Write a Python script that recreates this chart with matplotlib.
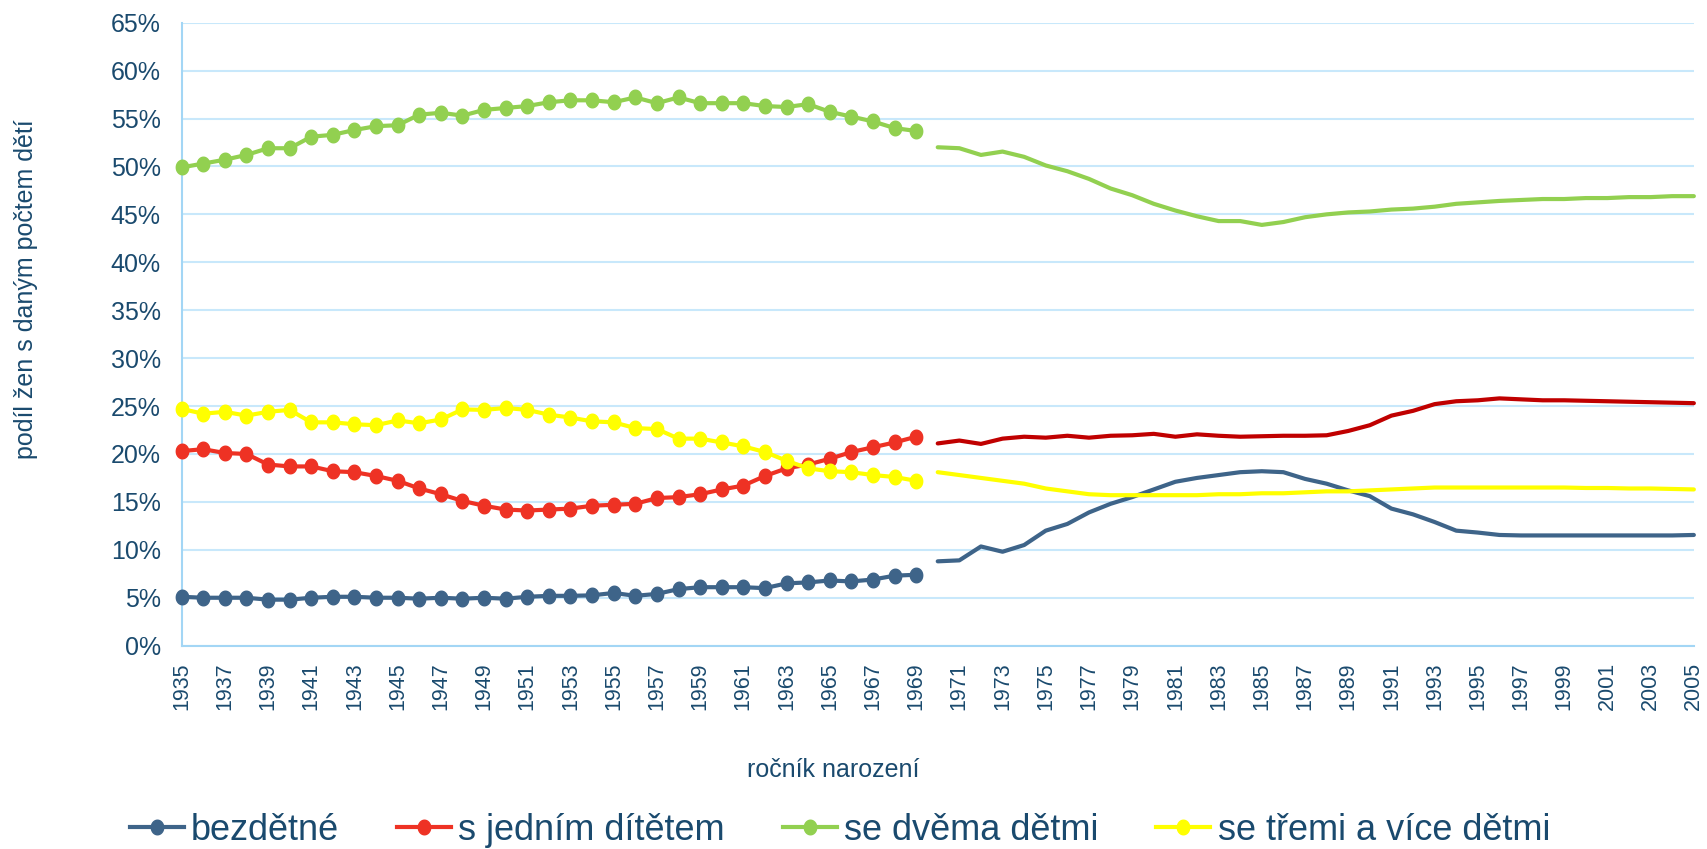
import numpy as np
import matplotlib as mpl
mpl.use("Agg")
import matplotlib.pyplot as plt
from matplotlib.path import Path

plt.rcParams['font.family'] = ['Liberation Sans', 'DejaVu Sans']

# colours
text_col = '#1A4A6E'
grid_col = '#C8E8FB'
axis_col = '#A3D6F5'
col_none = '#3E6489'
col_one = '#EE3224'
col_one_proj = '#C00000'
col_two = '#92D050'
col_three = '#FFFF00'

# data (share of women, %)
years_obs = list(range(1935, 1970))
years_proj = list(range(1970, 2006))

none_obs = [5.1, 5.0, 5.0, 5.0, 4.8, 4.8, 5.0, 5.1, 5.1, 5.0, 5.0, 4.9, 5.0, 4.9, 5.0,
            4.9, 5.1, 5.2, 5.2, 5.25, 5.5, 5.2, 5.4, 5.9, 6.1, 6.1, 6.1, 6.0, 6.5, 6.6,
            6.8, 6.7, 6.9, 7.3, 7.4]
one_obs = [20.3, 20.5, 20.1, 20.0, 18.9, 18.7, 18.7, 18.2, 18.1, 17.7, 17.2, 16.4, 15.8,
           15.1, 14.6, 14.2, 14.1, 14.2, 14.3, 14.6, 14.7, 14.8, 15.4, 15.5, 15.8, 16.3,
           16.7, 17.7, 18.5, 18.9, 19.5, 20.2, 20.7, 21.2, 21.8]
two_obs = [49.9, 50.3, 50.7, 51.2, 51.9, 51.9, 53.1, 53.3, 53.8, 54.2, 54.3, 55.4, 55.6,
           55.3, 55.9, 56.1, 56.3, 56.7, 56.9, 56.9, 56.7, 57.2, 56.6, 57.2, 56.6, 56.6,
           56.6, 56.3, 56.2, 56.5, 55.7, 55.2, 54.7, 54.0, 53.7]
three_obs = [24.7, 24.2, 24.4, 24.0, 24.4, 24.6, 23.3, 23.3, 23.1, 23.0, 23.5, 23.2, 23.6,
             24.65, 24.6, 24.8, 24.6, 24.1, 23.8, 23.4, 23.3, 22.7, 22.6, 21.6, 21.6, 21.2,
             20.8, 20.2, 19.3, 18.5, 18.2, 18.1, 17.8, 17.6, 17.2]

none_proj = [8.8, 8.9, 10.35, 9.8, 10.5, 12.0, 12.7, 13.9, 14.8, 15.5, 16.3, 17.1, 17.5,
             17.8, 18.1, 18.2, 18.1, 17.4, 16.9, 16.2, 15.6, 14.3, 13.7, 12.9, 12.0, 11.8,
             11.55, 11.5, 11.5, 11.5, 11.5, 11.5, 11.5, 11.5, 11.5, 11.55]
one_proj = [21.1, 21.4, 21.05, 21.6, 21.8, 21.7, 21.9, 21.7, 21.9, 21.95, 22.1, 21.8, 22.05,
            21.9, 21.8, 21.85, 21.9, 21.9, 21.95, 22.4, 23.0, 24.0, 24.5, 25.2, 25.5, 25.6,
            25.8, 25.7, 25.6, 25.6, 25.55, 25.5, 25.45, 25.4, 25.35, 25.3]
two_proj = [52.0, 51.9, 51.2, 51.55, 51.0, 50.1, 49.5, 48.7, 47.7, 47.0, 46.1, 45.4, 44.8,
            44.3, 44.3, 43.9, 44.2, 44.7, 45.0, 45.2, 45.3, 45.5, 45.6, 45.8, 46.1, 46.25,
            46.4, 46.5, 46.6, 46.6, 46.7, 46.7, 46.8, 46.8, 46.9, 46.9]
three_proj = [18.1, 17.8, 17.5, 17.2, 16.9, 16.4, 16.1, 15.8, 15.7, 15.7, 15.7, 15.7, 15.7,
              15.8, 15.8, 15.9, 15.9, 16.0, 16.1, 16.1, 16.2, 16.3, 16.4, 16.5, 16.5, 16.5,
              16.5, 16.5, 16.5, 16.5, 16.45, 16.45, 16.4, 16.4, 16.35, 16.3]

labels = ['bezdětné', 's jedním dítětem', 'se dvěma dětmi', 'se třemi a více dětmi']

# slightly tall ellipse marker
t = np.linspace(0, 2 * np.pi, 40)
ell = Path(np.column_stack([0.85 * np.cos(t), np.sin(t)]), closed=True)

fig = plt.figure(figsize=(17.07, 8.49), dpi=100)
ax = fig.add_axes([0.1064, 0.2395, 0.8859, 0.7338])

lw = 3.0
ms = 10.5
handles = []
for obs, proj, c, cp, lab in [(none_obs, none_proj, col_none, col_none, labels[0]),
                              (one_obs, one_proj, col_one, col_one_proj, labels[1]),
                              (two_obs, two_proj, col_two, col_two, labels[2]),
                              (three_obs, three_proj, col_three, col_three, labels[3])]:
    h, = ax.plot(years_obs, np.array(obs) / 100, color=c, lw=lw, marker=ell,
                 markersize=ms, clip_on=False, label=lab, zorder=3)
    ax.plot(years_proj, np.array(proj) / 100, color=cp, lw=lw, clip_on=False,
            solid_capstyle='round', zorder=3)
    handles.append(h)

ax.set_xlim(1935, 2005)
ax.set_ylim(0, 0.65)
ax.set_yticks(np.arange(0, 0.651, 0.05))
ax.set_yticklabels(['%d%%' % v for v in range(0, 66, 5)])
ax.set_xticks(range(1935, 2006, 2))
ax.set_xticklabels([str(y) for y in range(1935, 2006, 2)], rotation=90)

ax.yaxis.grid(True, color=grid_col, lw=1.5)
ax.set_axisbelow(True)
for s in ['top', 'right']:
    ax.spines[s].set_visible(False)
ax.spines['left'].set_color(axis_col)
ax.spines['bottom'].set_color(axis_col)
ax.spines['left'].set_linewidth(1.5)
ax.spines['bottom'].set_linewidth(1.5)

ax.tick_params(axis='y', length=0, pad=15, labelsize=18, labelcolor=text_col)
ax.tick_params(axis='x', length=0, pad=12, labelsize=15.5, labelcolor=text_col)

fig.text(833 / 1707, 1 - 770 / 849, 'ročník narození', ha='center', va='center',
         fontsize=18, color=text_col)
fig.text(26 / 1707, 1 - 289 / 849, 'podíl žen s daným počtem dětí', ha='center',
         va='center', rotation=90, fontsize=18, color=text_col)

leg = fig.legend(handles, labels, loc='center', bbox_to_anchor=(0.492, 1 - 830 / 849),
                 ncol=4, frameon=False, fontsize=26, handlelength=1.5,
                 handletextpad=0.2, columnspacing=1.6, markerscale=1.0)
for txt in leg.get_texts():
    txt.set_color(text_col)

fig.savefig('out.png', dpi=100)
